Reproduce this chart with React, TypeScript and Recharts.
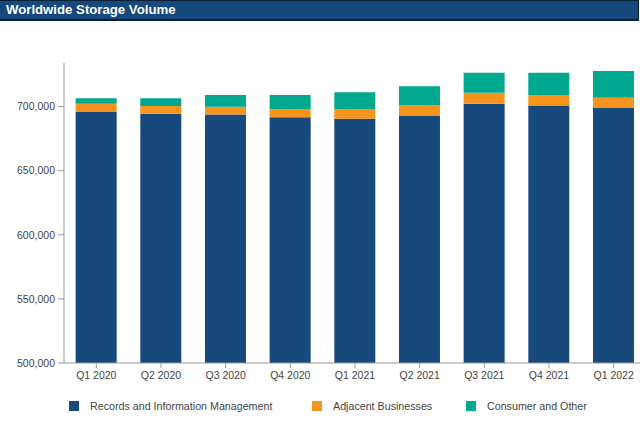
import { BarChart, Bar, XAxis, YAxis } from "recharts";

const quarters = ["Q1 2020", "Q2 2020", "Q3 2020", "Q4 2020", "Q1 2021", "Q2 2021", "Q3 2021", "Q4 2021", "Q1 2022"];
const records = [696100, 694500, 693800, 691700, 690600, 693000, 702300, 700800, 699200];
const adjacent = [6200, 6000, 6000, 6500, 7600, 7800, 8400, 8300, 7600];
const consumer = [4200, 6000, 9300, 10900, 13000, 15100, 15600, 17200, 21000];
const yTicks = [500000, 550000, 600000, 650000, 700000];

const series = [
  { key: "records", name: "Records and Information Management", color: "#17497d" },
  { key: "adjacent", name: "Adjacent Businesses", color: "#f7941d" },
  { key: "consumer", name: "Consumer and Other", color: "#00a88f" },
];

const data = quarters.map((q, i) => ({
  name: q,
  records: records[i],
  adjacent: adjacent[i],
  consumer: consumer[i],
}));

const legendX = [69, 312, 466];

const App = () => {
  return (
    <div
      style={{
        position: "absolute",
        top: 0,
        left: 0,
        width: 640,
        height: 424,
        overflow: "hidden",
        background: "#fff",
        fontFamily: "'Liberation Sans', Arial, sans-serif",
      }}
    >
      <div
        style={{
          position: "absolute",
          top: 0,
          left: 0,
          width: 639,
          height: 21,
          background: "#15487c",
          borderTop: "1px solid #0b1f36",
          borderBottom: "2px solid #0b1f36",
          borderRight: "1px solid #0b1f36",
          color: "#fff",
          fontWeight: "bold",
          fontSize: 13.2,
          lineHeight: "18px",
          paddingLeft: 6,
          boxSizing: "border-box",
        }}
      >
        Worldwide Storage Volume
      </div>
      <div style={{ position: "absolute", top: 0, left: 0 }}>
        <BarChart
          width={646}
          height={424}
          data={data}
          margin={{ top: 63, right: 0, left: 0, bottom: 31 }}
          barCategoryGap="18%"
        >
          <XAxis
            dataKey="name"
            height={30}
            tickSize={5}
            tickMargin={4}
            stroke="#999"
            tick={{ fill: "#444", fontSize: 10.5 }}
          />
          <YAxis
            width={64}
            domain={[500000, 734000]}
            ticks={yTicks}
            allowDataOverflow
            tickSize={6}
            tickMargin={3}
            stroke="#999"
            tick={{ fill: "#444", fontSize: 10.5 }}
            tickFormatter={(v: number) => v.toLocaleString("en-US")}
          />
          {series.map((s) => (
            <Bar
              key={s.key}
              dataKey={s.key}
              name={s.name}
              stackId="a"
              fill={s.color}
              isAnimationActive={false}
            />
          ))}
        </BarChart>
      </div>
      {series.map((s, i) => (
        <div
          key={s.key}
          style={{
            position: "absolute",
            top: 400,
            left: legendX[i],
            display: "flex",
            alignItems: "center",
            fontSize: 10.7,
            color: "#444",
            whiteSpace: "nowrap",
          }}
        >
          <span style={{ display: "inline-block", width: 10, height: 10, background: s.color, marginRight: 11 }} />
          <span>{s.name}</span>
        </div>
      ))}
    </div>
  );
};

export default App;
